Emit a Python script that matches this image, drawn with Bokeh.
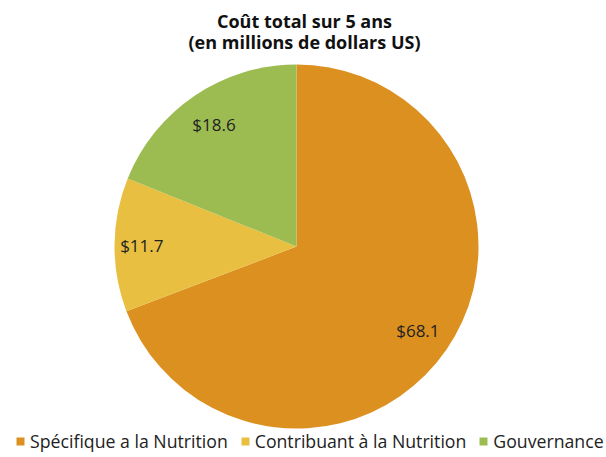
import math
from bokeh.plotting import figure
from bokeh.models import ColumnDataSource, Legend, LegendItem
from bokeh.core.properties import value
from bokeh.embed import file_html
from bokeh.resources import INLINE

categories = ["Spécifique a la Nutrition", "Contribuant à la Nutrition", "Gouvernance"]
values = [68.1, 11.7, 18.6]
labels = ["$68.1", "$11.7", "$18.6"]
title_lines = ["Coût total sur 5 ans", "(en millions de dollars US)"]
colors = ["#DC9020", "#E8BF40", "#9CBC52"]
label_radius_frac = [0.81, 0.85, 0.81]

W, H = 606, 457
cx, cy, r = 296, H - 246, 182

total = sum(values)
starts, ends, lx, ly = [], [], [], []
cum = 0.0
for v, f in zip(values, label_radius_frac):
    c0 = cum / total
    c1 = (cum + v) / total
    starts.append(math.pi / 2 - 2 * math.pi * c1)
    ends.append(math.pi / 2 - 2 * math.pi * c0)
    mid = math.pi / 2 - 2 * math.pi * (c0 + c1) / 2
    lx.append(cx + f * r * math.cos(mid))
    ly.append(cy + f * r * math.sin(mid))
    cum += v

src = ColumnDataSource(dict(lx=lx, ly=ly, lab=labels))

p = figure(width=W, height=H, x_range=(0, W), y_range=(0, H),
           output_backend="svg", toolbar_location=None, min_border=0)
p.axis.visible = False
p.grid.visible = False
p.outline_line_color = None
p.background_fill_color = "white"

renderers = []
for i in range(len(values)):
    rr = p.wedge(x=cx, y=cy, radius=r, start_angle=starts[i], end_angle=ends[i],
                 fill_color=colors[i], line_color=None)
    renderers.append(rr)

p.text(x="lx", y="ly", text="lab", source=src, text_align="center",
       text_baseline="middle", text_font=value("Open Sans"),
       text_font_size="17px", text_color="#222222")

p.text(x=[W / 2 + 1, W / 2 + 1], y=[H - 20, H - 41],
       text=title_lines,
       text_align="center", text_baseline="middle", text_font=value("Open Sans"),
       text_font_size="18px", text_font_style="bold", text_color="#111111")

legend = Legend(items=[LegendItem(label=categories[i], renderers=[renderers[i]]) for i in range(3)],
                orientation="horizontal", location=(15, 4),
                label_text_font="Open Sans", label_text_font_size="17.7px",
                label_text_color="#222222", glyph_width=10, glyph_height=10,
                spacing=12, label_standoff=5, padding=0, margin=0,
                border_line_color=None, background_fill_alpha=0)
p.add_layout(legend)

open("out.html", "w").write(file_html(p, INLINE))
